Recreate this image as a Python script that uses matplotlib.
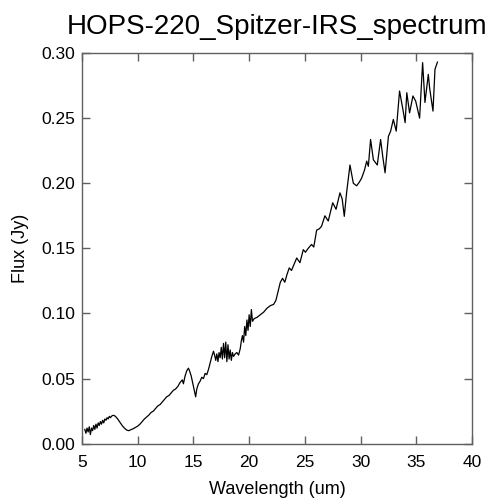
import matplotlib
matplotlib.use("Agg")
import matplotlib.pyplot as plt

# Spectrum
wavelength = [
    5.25, 5.35, 5.45, 5.55, 5.65, 5.75, 5.85, 5.95, 6.05, 6.15, 6.25, 6.35,
    6.45, 6.55, 6.65, 6.75, 6.85, 6.95, 7.05, 7.15, 7.25, 7.35, 7.45, 7.55,
    7.7, 7.85, 8.0, 8.2, 8.4, 8.6, 8.8, 9.0, 9.2, 9.4, 9.6, 9.8, 10.0, 10.2,
    10.4, 10.6, 10.8, 11.0, 11.2, 11.4, 11.6, 11.8, 12.0, 12.2, 12.4, 12.6,
    12.8, 13.0, 13.2, 13.4, 13.6, 13.8, 14.0, 14.1, 14.25, 14.4, 14.55, 14.65,
    14.8, 14.95, 15.1, 15.2, 15.3, 15.45, 15.6, 15.75, 15.9, 16.05, 16.2,
    16.35, 16.5, 16.65, 16.8, 16.9, 17.0, 17.1, 17.2, 17.3, 17.4, 17.5, 17.6,
    17.7, 17.8, 17.9, 18.0, 18.1, 18.2, 18.3, 18.4, 18.5, 18.6, 18.75, 18.9,
    19.05, 19.2, 19.3, 19.4, 19.5, 19.6, 19.7, 19.8, 19.9, 20.0, 20.1, 20.2,
    20.3, 20.45, 20.7, 21.0, 21.3, 21.6, 21.9, 22.2, 22.4, 22.6, 22.8, 23.0,
    23.2, 23.4, 23.6, 23.8, 24.0, 24.27, 24.56, 24.86, 25.05, 25.3, 25.6,
    25.8, 26.06, 26.3, 26.5, 26.8, 27.1, 27.5, 27.8, 28.15, 28.35, 28.54,
    28.75, 29.05, 29.35, 29.65, 29.9, 30.1, 30.35, 30.55, 30.7, 30.9, 31.15,
    31.5, 31.8, 32.0, 32.2, 32.5, 32.7, 32.94, 33.2, 33.5, 33.8, 34.0, 34.15,
    34.4, 34.7, 34.95, 35.3, 35.57, 35.78, 36.08, 36.2, 36.5, 36.68, 36.9,
]
flux = [
    0.011, 0.008, 0.012, 0.009, 0.013, 0.007, 0.012, 0.010, 0.014, 0.011,
    0.015, 0.012, 0.016, 0.014, 0.017, 0.015, 0.018, 0.016, 0.019, 0.018,
    0.020, 0.019, 0.021, 0.020, 0.0215, 0.0218, 0.021, 0.019, 0.0165, 0.014,
    0.012, 0.0105, 0.0100, 0.0108, 0.0115, 0.0125, 0.0135, 0.015, 0.017,
    0.019, 0.0205, 0.022, 0.024, 0.025, 0.027, 0.029, 0.030, 0.032, 0.034,
    0.036, 0.037, 0.039, 0.041, 0.042, 0.044, 0.047, 0.049, 0.046, 0.052,
    0.056, 0.058, 0.056, 0.052, 0.046, 0.040, 0.036, 0.042, 0.046, 0.048,
    0.051, 0.050, 0.054, 0.053, 0.057, 0.062, 0.067, 0.071, 0.068, 0.064,
    0.069, 0.063, 0.070, 0.066, 0.074, 0.065, 0.077, 0.066, 0.078, 0.063,
    0.076, 0.065, 0.072, 0.064, 0.070, 0.067, 0.069, 0.070, 0.068, 0.073,
    0.079, 0.083, 0.078, 0.090, 0.083, 0.095, 0.087, 0.099, 0.090, 0.103,
    0.094, 0.096, 0.097, 0.099, 0.101, 0.104, 0.106, 0.107, 0.110, 0.117,
    0.124, 0.127, 0.124, 0.130, 0.135, 0.133, 0.137, 0.1426, 0.139, 0.149,
    0.147, 0.150, 0.153, 0.151, 0.164, 0.165, 0.167, 0.175, 0.171, 0.185,
    0.180, 0.1926, 0.188, 0.1746, 0.193, 0.214, 0.200, 0.198, 0.201, 0.204,
    0.210, 0.217, 0.213, 0.2336, 0.218, 0.214, 0.2336, 0.220, 0.208, 0.236,
    0.240, 0.249, 0.240, 0.2708, 0.2567, 0.2465, 0.2695, 0.254, 0.267, 0.263,
    0.250, 0.2926, 0.262, 0.2836, 0.273, 0.2554, 0.2875, 0.293,
]

x_ticks = [5, 10, 15, 20, 25, 30, 35, 40]
y_ticks = [0.00, 0.05, 0.10, 0.15, 0.20, 0.25, 0.30]

plt.rcParams["font.family"] = ["Liberation Sans", "DejaVu Sans"]

fig = plt.figure(figsize=(4.92, 5.0), dpi=100)
ax = fig.add_axes([0.1667, 0.1126, 0.7926, 0.7814])

ax.plot(wavelength, flux, color="black", linewidth=0.9)

ax.set_xlim(5, 40)
ax.set_ylim(0, 0.30)
ax.set_xticks(x_ticks)
ax.set_yticks(y_ticks)
ax.set_xticklabels([str(t) for t in x_ticks])
ax.set_yticklabels([f"{t:.2f}" for t in y_ticks])

axis_col = "#606060"
for sp in ax.spines.values():
    sp.set_color(axis_col)
    sp.set_linewidth(1.0)
ax.tick_params(direction="in", length=6, width=1.0, color=axis_col,
               top=True, right=True, labelsize=12.5)
ax.tick_params(axis="x", pad=8)
ax.tick_params(axis="y", pad=5)

ax.set_xlabel("Wavelength (um)", fontsize=13, labelpad=8)
ax.set_ylabel("Flux (Jy)", fontsize=13, labelpad=9)
ax.set_title("HOPS-220_Spitzer-IRS_spectrum", fontsize=20, pad=14)

fig.savefig("out.png", dpi=100)
